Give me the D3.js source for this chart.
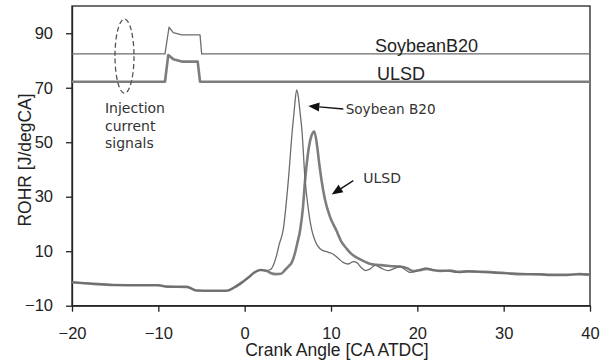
<!DOCTYPE html>
<html>
<head>
<meta charset="utf-8">
<script src="https://cdn.jsdelivr.net/npm/d3@7/dist/d3.min.js"></script>
<style>
  html, body { margin: 0; padding: 0; background: #fff; }
  svg { display: block; }
</style>
</head>
<body>
<svg id="chart" width="610" height="363"></svg>
<script>
// Rate of heat release vs crank angle, with injector current traces on top

// axis ticks
const xTicks = [-20, -10, 0, 10, 20, 30, 40];
const yTicks = [-10, 10, 30, 50, 70, 90];

// ROHR, ULSD
const caULSD = [-20, -17.5, -15.2, -12, -10, -9, -6.7, -5.6, -4, -2.1, -1.2, -0.2, 0.5, 1.0, 1.8, 2.5,
  3.0, 3.6, 4.2, 4.67, 5.1, 5.45, 5.8, 6.1, 6.43, 6.75, 7.0, 7.2, 7.45, 7.75, 8.07, 8.4, 8.63, 8.9,
  9.3, 9.9, 10.6, 11.2, 11.8, 12.3, 12.9, 13.4, 14.1, 14.6, 15.3, 16.1, 17.0, 18.0, 18.8, 19.5,
  20.2, 21.1, 22.0, 22.6, 23.8, 24.8, 25.7, 27.6, 30.4, 31.5, 34.2, 35.4, 37.3, 38.8, 40];
const rohrULSD = [-1.4, -2.0, -2.4, -2.5, -2.5, -3.0, -3.1, -4.4, -4.5, -4.5, -3.3, -1.2, 0.5, 1.9, 3.1, 2.8,
  2.0, 1.6, 1.7, 3.1, 4.5, 5.8, 9, 13, 17.8, 26, 36.1, 42.3, 48.4, 52.5, 53.9, 48.4, 42.3, 36.1,
  29, 22.5, 17.8, 13.5, 11.0, 9.2, 7.8, 7.0, 5.9, 5.3, 5.0, 4.8, 4.5, 4.3, 3.8, 2.7,
  3.0, 3.5, 3.0, 2.8, 2.9, 2.4, 2.6, 2.4, 1.9, 1.6, 1.5, 1.3, 1.3, 1.6, 1.4];

// ROHR, Soybean B20
const caB20 = [-20, -17.5, -15.2, -12, -10, -9, -6.7, -5.6, -4, -2.1, -1.2, -0.2, 0.5, 1.0, 1.8, 2.5,
  3.0, 3.4, 3.7, 4.0, 4.46, 5.06, 5.52, 5.75, 6.02, 6.2, 6.43, 6.63, 7.0, 7.35, 7.77, 8.2, 8.7, 9.1,
  9.7, 10.3, 10.8, 11.4, 12.0, 12.6, 13.0, 13.5, 14.0, 14.5, 15.1, 15.8, 16.6, 17.3, 18.0, 18.6,
  19.2, 20.0, 20.9, 21.6, 22.2, 23.0, 24.9, 26.1, 27.5, 30.4, 32.5, 34.2, 36.5, 38.8, 40];
const rohrB20 = [-1.4, -2.0, -2.4, -2.5, -2.5, -3.0, -3.1, -4.4, -4.5, -4.5, -3.3, -1.2, 0.5, 1.9, 3.1, 2.9,
  3.3, 5.5, 8.5, 12.5, 17.8, 36.1, 54.5, 62, 69.2, 67, 60.6, 54.5, 36.1, 26, 17.8, 13.5, 11, 10.2,
  9.6, 8.8, 7.5, 5.9, 5.3, 6.2, 5.8, 4.0, 2.9, 3.4, 4.8, 3.8, 2.9, 3.6, 4.5, 3.2,
  2.2, 2.8, 3.8, 3.3, 2.9, 2.9, 2.2, 2.7, 2.4, 1.9, 1.8, 1.6, 1.2, 1.6, 1.4];

// injector current traces (offset, arbitrary units on the ROHR axis)
const caInjB20 = [-20, -9.23, -8.76, -8.27, -7.29, -5.17, -4.98, 40];
const injB20 = [82.4, 82.4, 92.2, 90.2, 89.4, 89.4, 82.4, 82.4];
const caInjULSD = [-20, -9.23, -8.85, -8.27, -7.29, -5.44, -5.17, 40];
const injULSD = [72.2, 72.2, 82.0, 80.5, 79.6, 79.6, 72.2, 72.2];

const svg = d3.select("#chart");
const plotLeft = 72, plotRight = 590, plotTop = 6, plotBottom = 305.7;

const x = d3.scaleLinear().domain([-20, 40]).range([plotLeft, plotRight]);
const y = d3.scaleLinear().domain([-10, 100]).range([plotBottom, plotTop]);

const tickFont = "'Liberation Sans', Arial, sans-serif";
const noteFont = "'DejaVu Sans', Verdana, sans-serif";

// frame
svg.append("rect")
  .attr("x", plotLeft).attr("y", plotTop)
  .attr("width", plotRight - plotLeft).attr("height", plotBottom - plotTop)
  .attr("fill", "none").attr("stroke", "#222").attr("stroke-width", 1.3);

// axes
const xAxis = d3.axisBottom(x).tickValues(xTicks).tickSize(6).tickSizeOuter(0).tickPadding(16);
const gx = svg.append("g").attr("transform", `translate(0,${plotBottom})`).call(xAxis);
const yAxis = d3.axisLeft(y).tickValues(yTicks).tickSize(6).tickSizeOuter(0).tickPadding(13);
const gy = svg.append("g").attr("transform", `translate(${plotLeft},0)`).call(yAxis);
[gx, gy].forEach(g => {
  g.select(".domain").attr("stroke", "#222").attr("stroke-width", 1.3);
  g.selectAll(".tick line").attr("stroke", "#222").attr("stroke-width", 1.3);
  g.selectAll(".tick text").attr("font-family", tickFont).attr("font-size", 16.5).attr("fill", "#222");
});

// axis titles
svg.append("text")
  .attr("x", 337).attr("y", 356)
  .attr("text-anchor", "middle")
  .attr("font-family", tickFont).attr("font-size", 17.5).attr("fill", "#222")
  .text("Crank Angle [CA ATDC]");
svg.append("text")
  .attr("transform", "translate(30.5,160) rotate(-90)")
  .attr("text-anchor", "middle")
  .attr("font-family", tickFont).attr("font-size", 17.5).attr("fill", "#222")
  .text("ROHR [J/degCA]");

const line = d3.line().x(d => x(d[0])).y(d => y(d[1]));
const smooth = d3.line().x(d => x(d[0])).y(d => y(d[1])).curve(d3.curveMonotoneX);

// injector current
svg.append("path")
  .datum(d3.zip(caInjULSD, injULSD))
  .attr("d", line).attr("fill", "none")
  .attr("stroke", "#7d7d7d").attr("stroke-width", 2.6).attr("stroke-linejoin", "round");
svg.append("path")
  .datum(d3.zip(caInjB20, injB20))
  .attr("d", line).attr("fill", "none")
  .attr("stroke", "#6c6c6c").attr("stroke-width", 1.3).attr("stroke-linejoin", "round");

// ROHR curves
svg.append("path")
  .datum(d3.zip(caULSD, rohrULSD))
  .attr("d", smooth).attr("fill", "none")
  .attr("stroke", "#7d7d7d").attr("stroke-width", 2.6).attr("stroke-linejoin", "round");
svg.append("path")
  .datum(d3.zip(caB20, rohrB20))
  .attr("d", smooth).attr("fill", "none")
  .attr("stroke", "#6c6c6c").attr("stroke-width", 1.3).attr("stroke-linejoin", "round");

// trace labels
svg.append("text").attr("x", x(15.1)).attr("y", y(83.1))
  .attr("font-family", tickFont).attr("font-size", 18).attr("fill", "#222").text("SoybeanB20");
svg.append("text").attr("x", x(15.33)).attr("y", y(73.0))
  .attr("font-family", tickFont).attr("font-size", 18).attr("fill", "#222").text("ULSD");

// injection signal callout
svg.append("ellipse")
  .attr("cx", x(-13.92)).attr("cy", y(81.6))
  .attr("rx", x(-12.82) - x(-13.92)).attr("ry", y(68) - y(81.6))
  .attr("fill", "none").attr("stroke", "#555").attr("stroke-width", 1.3)
  .attr("stroke-dasharray", "5,3");
const injText = svg.append("text")
  .attr("font-family", noteFont).attr("font-size", 14).attr("fill", "#333");
["Injection", "current", "signals"].forEach((t, i) => {
  injText.append("tspan").attr("x", x(-16.18)).attr("y", y(60.6) + i * 17.5).text(t);
});

// arrows to the curves
function arrow(x0, y0, x1, y1) {
  const px0 = x(x0), py0 = y(y0), px1 = x(x1), py1 = y(y1);
  const a = Math.atan2(py1 - py0, px1 - px0);
  const len = 11, half = 4.5;
  const bx = px1 - len * Math.cos(a), by = py1 - len * Math.sin(a);
  svg.append("line")
    .attr("x1", px0).attr("y1", py0).attr("x2", bx).attr("y2", by)
    .attr("stroke", "#111").attr("stroke-width", 1.3);
  svg.append("path")
    .attr("d", `M${px1},${py1}L${bx - half * Math.sin(a)},${by + half * Math.cos(a)}L${bx + half * Math.sin(a)},${by - half * Math.cos(a)}Z`)
    .attr("fill", "#111");
}
arrow(11.43, 62.2, 7.37, 63.3);
arrow(12.58, 35.9, 10.08, 30.8);

svg.append("text").attr("x", x(11.7)).attr("y", y(60.3))
  .attr("font-family", noteFont).attr("font-size", 13.6).attr("fill", "#333").text("Soybean B20");
svg.append("text").attr("x", x(13.74)).attr("y", y(35.2))
  .attr("font-family", noteFont).attr("font-size", 14).attr("fill", "#333").text("ULSD");
</script>
</body>
</html>
